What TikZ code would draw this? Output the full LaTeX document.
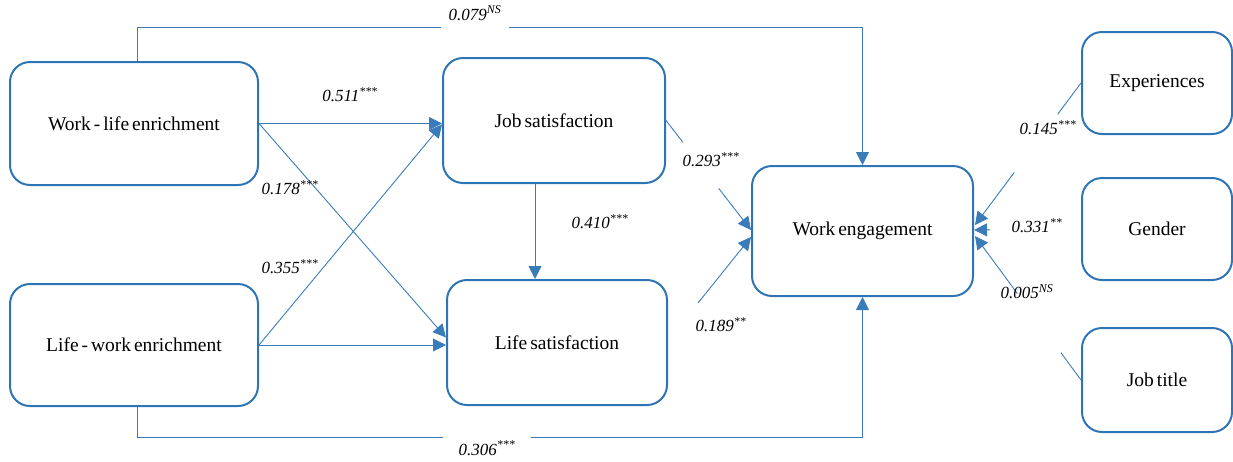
\documentclass[tikz,border=0pt]{standalone}
\usepackage{fontspec}
\setmainfont{Liberation Serif}[WordSpace=0.6]
\usetikzlibrary{arrows.meta,calc}
\definecolor{bbox}{RGB}{46,117,182}
\definecolor{lline}{RGB}{58,124,186}
\begin{document}
\begin{tikzpicture}[x=1pt,y=-1pt,
  box/.style={draw=bbox,line width=2pt,rounded corners=20pt,inner sep=0pt,
    font=\fontsize{19.5}{22}\selectfont},
  ln/.style={draw=lline,line width=0.9pt},
  arr/.style={ln,-{Triangle[length=13pt,width=13pt]}},
  lab/.style={font=\fontsize{17}{19}\selectfont\itshape,inner sep=1pt}]
\useasboundingbox (0,0) rectangle (1233,461);
% boxes
\node[box,minimum width=248pt,minimum height=123pt] (wle) at (134,123.5) {Work - life enrichment};
\node[box,minimum width=248pt,minimum height=122pt] (lwe) at (134,345) {Life - work enrichment};
\node[box,minimum width=222pt,minimum height=125pt] (js) at (554,120.5) {Job satisfaction};
\node[box,minimum width=220pt,minimum height=125pt] (ls) at (557,342.5) {Life satisfaction};
\node[box,minimum width=221pt,minimum height=130pt] (we) at (862.5,231) {Work engagement};
\node[box,minimum width=150pt,minimum height=102pt] (exp) at (1157,83) {Experiences};
\node[box,minimum width=150pt,minimum height=102pt] (gen) at (1157,229) {Gender};
\node[box,minimum width=150pt,minimum height=104pt] (jt) at (1157,380) {Job title};
% coordinates
\coordinate (topc) at (862.5,27);
\coordinate (botc) at (862.5,437);
\coordinate (weW1) at (751,230);
\coordinate (weW2) at (751,237);
\coordinate (weE1) at (975,225);
\coordinate (weE) at (974,230);
\coordinate (weE2) at (975,236);
\coordinate (lsout) at (698,303);
% left connectors
\draw[arr] (wle.east) -- (wle.east -| js.west);
\draw[arr] (lwe.east) -- (lwe.east -| ls.west);
\draw[arr] (wle.east) -- ([yshift=5pt]ls.west);
\draw[arr] (lwe.east) -- ([yshift=-4pt]js.west);
\draw[arr] ([xshift=-19pt]js.south) -- ([xshift=-19pt]js.south |- ls.north);
% long connectors
\draw[arr] ([xshift=3pt]wle.north) |- (topc) -- (we.north);
\draw[arr] ([xshift=3pt]lwe.south) |- (botc) -- (we.south);
% into work engagement from left
\draw[ln] (js.east) -- ($(js.east)!0.2!(weW1)$);
\draw[arr] ($(js.east)!0.62!(weW1)$) -- (weW1);
\draw[arr] (lsout) -- (weW2);
% from right
\draw[ln] (exp.west) -- ($(exp.west)!0.22!(weE1)$);
\draw[arr] ($(exp.west)!0.63!(weE1)$) -- (weE1);
\draw[arr] ($(gen.west)!0.85!(weE)$) -- (weE);
\draw[ln] (jt.west) -- ($(jt.west)!0.19!(weE2)$);
\draw[arr] ($(jt.west)!0.6!(weE2)$) -- (weE2);
% labels
\node[lab,fill=white,inner xsep=8pt,text height=12pt,text depth=12pt] (l1) at (475,20) {0.079\textsuperscript{NS}};
\node[lab] (l2) at (350,95) {0.511\textsuperscript{***}};
\node[lab] (l3) at (290,188) {0.178\textsuperscript{***}};
\node[lab] (l4) at (290,267) {0.355\textsuperscript{***}};
\node[lab] (l5) at (600,222) {0.410\textsuperscript{***}};
\node[lab] (l6) at (711,160) {0.293\textsuperscript{***}};
\node[lab] (l7) at (721,325) {0.189\textsuperscript{**}};
\node[lab] (l8) at (1048,128) {0.145\textsuperscript{***}};
\node[lab] (l9) at (1037,226) {0.331\textsuperscript{**}};
\node[lab] (l10) at (1027,292) {0.005\textsuperscript{NS}};
\node[lab,fill=white,inner xsep=16pt,text height=18pt,text depth=4pt] (l11) at (487,448) {0.306\textsuperscript{***}};
\end{tikzpicture}
\end{document}
